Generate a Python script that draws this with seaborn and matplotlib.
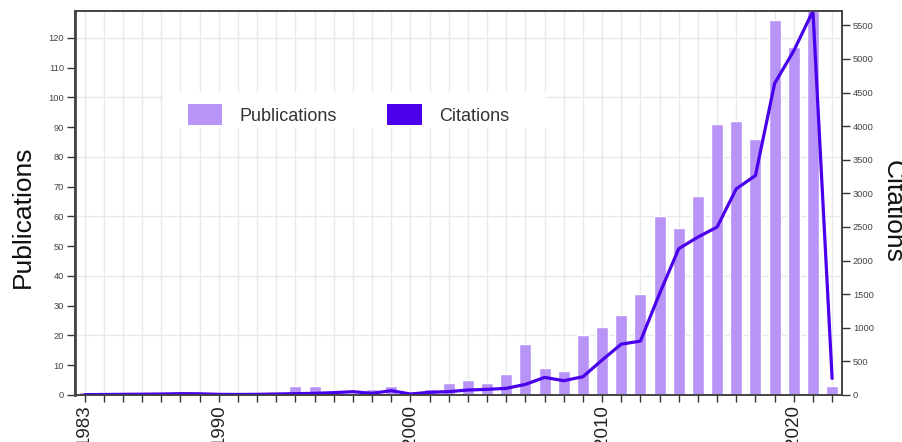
import pandas as pd
import matplotlib.pyplot as plt
import seaborn as sns
from matplotlib.patches import Patch, Rectangle

# Datos
years = list(range(1983, 2023))
publications = [1, 1, 0, 0, 0, 0, 0, 0, 0, 0,
                1, 3, 3, 0, 0, 2, 3, 0, 2, 4,
                5, 4, 7, 17, 9, 8, 20, 23, 27, 34,
                60, 56, 67, 91, 92, 86, 126, 117, 129, 3]
citations = [5, 8, 10, 12, 15, 20, 18, 10, 8, 10,
             15, 20, 25, 35, 49, 25, 64, 15, 40, 50,
             74, 84, 99, 158, 262, 213, 272, 520, 757, 802,
             1510, 2178, 2350, 2499, 3068, 3266, 4636, 5122, 5714, 247]
label_years = [1983, 1990, 2000, 2010, 2020]

bar_color = '#b794f6'
line_color = '#4a00ea'

df = pd.DataFrame({'year': years, 'publications': publications, 'citations': citations})

sns.set_style('white')
plt.rcParams['font.family'] = ['Liberation Sans', 'DejaVu Sans']

fig = plt.figure(figsize=(9.03, 4.42), dpi=100)
ax = fig.add_axes([75 / 903, 47 / 442, 766.7 / 903, 384 / 442])

# seaborn escala el ancho por 0.8 con native_scale -> 0.625 da medio año
sns.barplot(data=df, x='year', y='publications', native_scale=True, width=0.625,
            color=bar_color, saturation=1, errorbar=None, ax=ax, zorder=2)

ax2 = ax.twinx()
sns.lineplot(data=df, x='year', y='citations', color=line_color, linewidth=2.3, ax=ax2)

ax.set_xlim(1982.5, 2022.5)
ax.set_ylim(0, max(publications))
ax2.set_ylim(0, max(citations))

# ejes y rejilla
ax.set_xticks(years)
ax.set_xticklabels([str(y) if y in label_years else '' for y in years],
                   rotation=90, fontsize=13.5, color='#222222')
ax.set_yticks(range(0, 130, 10))
ax.tick_params(axis='y', left=True, labelsize=6.7, labelcolor='#444444', length=6, width=1,
               color='#333333', pad=2)
ax.tick_params(axis='x', bottom=True, length=5, width=1, color='#333333', pad=2)
ax.yaxis.grid(False)
for y in range(20, 130, 20):
    ax.axhline(y, color='#e9e9e9', linewidth=1, zorder=0)
ax.xaxis.grid(True, color='#e9e9e9', linewidth=1)
ax.set_axisbelow(True)

ax2.set_yticks(range(0, 5600, 500))
ax2.tick_params(axis='y', right=True, labelsize=6.7, labelcolor='#444444', length=6, width=1,
                color='#333333', pad=2)
ax2.grid(False)

for a in (ax, ax2):
    for s in a.spines.values():
        s.set_color('#444444')
        s.set_linewidth(1.2)
ax.spines['left'].set_linewidth(2)

ax.set_xlabel('')
ax.set_ylabel('Publications', fontsize=19, color='#111111', va='center')
ax.yaxis.set_label_coords(-0.0685, 0.4635)
ax2.set_ylabel('Citations', fontsize=19, color='#111111', rotation=270, va='center')
ax2.yaxis.set_label_coords(1.067, 0.479)

# leyenda con fondo blanco
fig.patches.append(Rectangle((163 / 903, 1 - 128 / 442), 384 / 903, 36 / 442,
                             transform=fig.transFigure, facecolor='white',
                             edgecolor='none', zorder=1))
handles = [Patch(facecolor=bar_color, edgecolor='none'),
           Patch(facecolor=line_color, edgecolor='none')]
fig.legend(handles, ['Publications', 'Citations'], loc='center left',
           bbox_to_anchor=(188 / 903, 1 - 114.5 / 442), ncol=2, frameon=False,
           fontsize=13, handlelength=1.9, handleheight=1.35, handletextpad=0.95,
           columnspacing=2.8, borderpad=0, borderaxespad=0, labelcolor='#333333')

plt.savefig('out.png', dpi=100)
plt.close()
